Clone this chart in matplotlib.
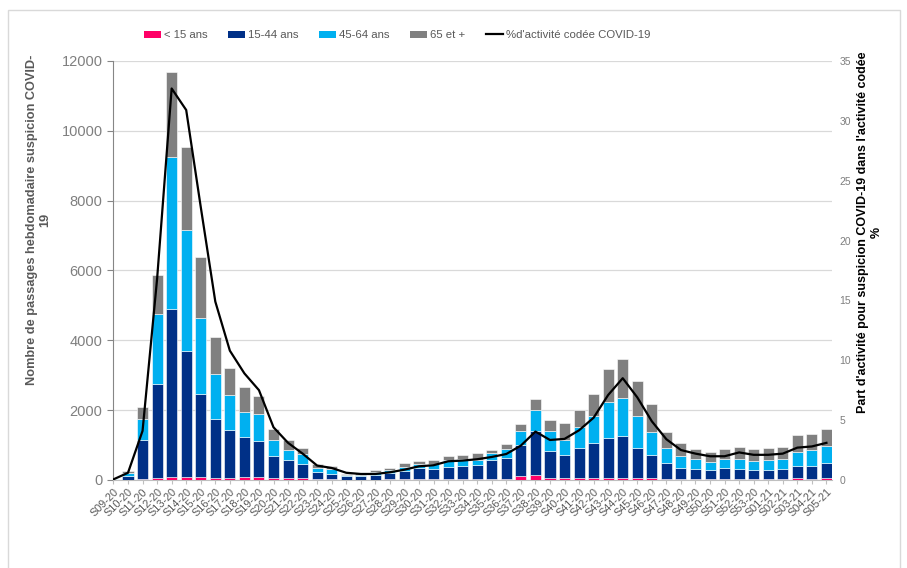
#!/usr/bin/env python3

import numpy as np
import matplotlib
matplotlib.use("Agg")
import matplotlib.pyplot as plt
from matplotlib.lines import Line2D
from matplotlib.patches import Patch

plt.rcParams["font.family"] = ["Liberation Sans", "DejaVu Sans"]

weeks = ["S%02d-20" % w for w in range(9, 54)] + ["S%02d-21" % w for w in range(1, 6)]

# passages par classe d'age
moins15 = [0, 10, 35, 50, 95, 95, 95, 67, 67, 86, 86, 57, 57, 48, 29, 20, 10, 10, 12, 15,
           15, 20, 20, 25, 25, 25, 30, 30, 106, 135, 48, 48, 48, 50, 55, 55, 50, 50, 35, 30,
           30, 25, 25, 25, 25, 25, 30, 58, 40, 55]
a15_44 = [10, 114, 1112, 2703, 4800, 3595, 2362, 1692, 1357, 1138, 1023, 622, 526, 411, 191, 160, 90, 96, 142, 187,
          254, 317, 297, 360, 388, 417, 537, 605, 894, 1269, 788, 663, 875, 1017, 1156, 1214, 873, 671, 446, 326,
          297, 273, 331, 302, 273, 273, 297, 336, 354, 426]
a45_64 = [5, 66, 612, 2008, 4350, 3480, 2189, 1262, 1014, 736, 774, 478, 277, 277, 134, 120, 45, 38, 77, 86,
          106, 115, 145, 182, 174, 116, 202, 259, 394, 586, 558, 443, 596, 769, 1029, 1077, 913, 644, 423, 327,
          279, 212, 250, 279, 240, 269, 279, 414, 452, 500]
a65 = [5, 60, 344, 1099, 2437, 2371, 1750, 1061, 755, 707, 517, 306, 297, 172, 114, 95, 35, 61, 48, 49,
       106, 86, 105, 116, 134, 211, 96, 144, 202, 318, 317, 481, 491, 625, 952, 1115, 1000, 798, 471, 365,
       288, 288, 288, 346, 356, 356, 346, 471, 462, 480]

# part d'activite codee COVID-19 (%)
pct_covid = [0.05, 0.6, 4.1, 16.8, 32.7, 30.9, 22.8, 14.9, 10.8, 8.9, 7.5, 4.4, 3.1, 2.2, 1.2, 1.0, 0.6, 0.5, 0.5, 0.64,
             0.86, 1.14, 1.23, 1.56, 1.62, 1.73, 1.92, 2.17, 2.87, 4.04, 3.34, 3.43, 4.15, 5.2, 7.1, 8.5, 6.9, 4.9, 3.4, 2.5,
             2.2, 1.98, 1.98, 2.3, 2.1, 2.1, 2.2, 2.7, 2.8, 3.1]

series = [("< 15 ans", moins15, "#FF0066"),
          ("15-44 ans", a15_44, "#003087"),
          ("45-64 ans", a45_64, "#00B0F0"),
          ("65 et +", a65, "#808080")]

fig = plt.figure(figsize=(9.07, 5.68), dpi=100)
ax = fig.add_axes([0.1246, 0.155, 0.793, 0.7377])
ax2 = ax.twinx()

x = np.arange(len(weeks))
bottom = np.zeros(len(weeks))
handles = []
for name, vals, col in series:
    ax.bar(x, vals, width=0.76, bottom=bottom, color=col, edgecolor="white", linewidth=0.4, zorder=3)
    bottom += np.array(vals)
    handles.append(Patch(facecolor=col, label=name))

ax2.plot(x, pct_covid, color="black", linewidth=1.6, zorder=5)
handles.append(Line2D([0], [0], color="black", linewidth=1.6, label="%d'activité codée COVID-19"))

ax.set_xlim(-0.03, len(weeks) - 1 + 0.4)
ax.set_ylim(0, 12000)
ax.set_yticks(range(0, 12001, 2000))
ax2.set_ylim(0, 35)
ax2.set_yticks(range(0, 36, 5))

ax.grid(axis="y", color="#D9D9D9", linewidth=0.9, zorder=0)
ax.set_axisbelow(True)

for a in (ax, ax2):
    a.spines["top"].set_visible(False)
    a.spines["right"].set_visible(False)
ax2.spines["left"].set_visible(False)
ax2.spines["bottom"].set_visible(False)
ax.spines["left"].set_color("#868686")
ax.spines["bottom"].set_color("#BFBFBF")

ax.set_xticks(x)
ax.set_xticklabels(weeks, rotation=45, ha="right", rotation_mode="anchor", fontsize=7.8, color="#595959")
ax.tick_params(axis="x", length=3, color="#BFBFBF", pad=2)
ax.tick_params(axis="y", labelsize=10.5, labelcolor="#7F7F7F", length=4, color="#868686")
ax2.tick_params(axis="y", labelsize=7.5, labelcolor="#7F7F7F", length=0, pad=5)

ax.set_ylabel("Nombre de passages hebdomadaire suspicion COVID-\n19", fontsize=9.2,
              fontweight="bold", color="#595959", linespacing=1.15)
ax.yaxis.set_label_coords(-0.086, 0.62)
ax2.set_ylabel("Part d'activité pour suspicion COVID-19 dans l'activité codée\n%", fontsize=9,
               fontweight="bold", color="black", linespacing=1.15)
ax2.yaxis.set_label_coords(1.035, 0.59)

fig.legend(handles=handles, loc="center", bbox_to_anchor=(0.438, 0.938), ncol=5, frameon=False,
           fontsize=8.2, handlelength=1.5, handleheight=0.6, handletextpad=0.25, columnspacing=1.8,
           labelcolor="#595959")

# cadre gris clair autour du graphique
fig.add_artist(plt.Rectangle((8 / 907, -0.01), 892 / 907, 1 - 10 / 568 + 0.01, transform=fig.transFigure,
                             fill=False, edgecolor="#D9D9D9", linewidth=1.0))

fig.savefig("out.png", dpi=100)
